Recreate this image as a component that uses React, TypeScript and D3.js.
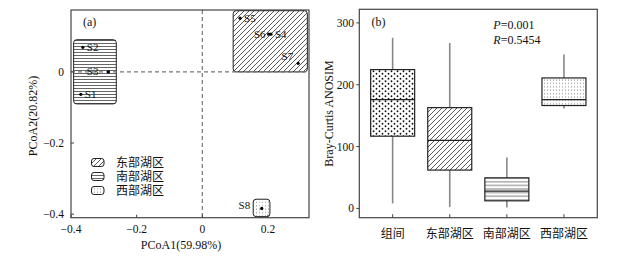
import React from 'react';
import * as d3 from 'd3';

// ---- Panel (a) data: PCoA sample coordinates ----
const samples = ['S1', 'S2', 'S3', 'S4', 'S5', 'S6', 'S7', 'S8'];
const pc1 = [-0.37, -0.364, -0.286, 0.209, 0.115, 0.202, 0.292, 0.181];
const pc2 = [-0.063, 0.069, 0.0, 0.106, 0.151, 0.106, 0.024, -0.384];
const labelSide = ['right', 'right', 'left', 'right', 'right', 'left', 'leftUp', 'leftFar'];

// region hulls (data units)
const regionNames = ['东部湖区', '南部湖区', '西部湖区'];
const regionPatterns = ['diag', 'hline', 'sdots'];
const regionX0 = [0.094, -0.392, 0.155];
const regionX1 = [0.32, -0.262, 0.206];
const regionY0 = [0.0, -0.09, -0.407];
const regionY1 = [0.172, 0.0905, -0.358];

const pcoaXTicks = [-0.4, -0.2, 0, 0.2];
const pcoaYTicks = [-0.4, -0.2, 0];

// ---- Panel (b) data: ANOSIM boxplots ----
const groups = ['组间', '东部湖区', '南部湖区', '西部湖区'];
const groupPatterns = ['bdots', 'diag', 'hline2', 'sdots'];
const whiskerLow = [8, 2, 1.6, 161.5];
const q1 = [116.8, 62, 12.3, 166.4];
const median = [176, 110, 28, 176];
const q3 = [224.5, 163, 49.5, 211];
const whiskerHigh = [276, 267.5, 82.4, 249];
const anosimYTicks = [0, 100, 200, 300];

const SERIF = "'Liberation Serif', 'Times New Roman', 'Noto Sans CJK SC', serif";
const AXIS = '#444';
const INK = '#111';

function Patterns() {
  return (
    <defs>
      <pattern id="diag" patternUnits="userSpaceOnUse" width="5" height="5">
        <path d="M0,5 L5,0 M-1,1 L1,-1 M4,6 L6,4" stroke="#222" strokeWidth="0.75" />
      </pattern>
      <pattern id="hline" patternUnits="userSpaceOnUse" width="6" height="3">
        <line x1="0" y1="1.5" x2="6" y2="1.5" stroke="#333" strokeWidth="0.75" />
      </pattern>
      <pattern id="hline2" patternUnits="userSpaceOnUse" width="6" height="3.6">
        <line x1="0" y1="1.8" x2="6" y2="1.8" stroke="#555" strokeWidth="0.8" />
      </pattern>
      <pattern id="sdots" patternUnits="userSpaceOnUse" width="3" height="3.4">
        <circle cx="1.5" cy="1.7" r="0.5" fill="#444" />
      </pattern>
      <pattern id="bdots" patternUnits="userSpaceOnUse" width="6" height="5">
        <circle cx="1.5" cy="1.25" r="0.9" fill="#111" />
        <circle cx="4.5" cy="3.75" r="0.9" fill="#111" />
      </pattern>
    </defs>
  );
}

function fmt(t: number) {
  return t === 0 ? '0' : d3.format('.1f')(t).replace('-', '−');
}

function PanelA() {
  const L = 71, R = 309, T = 10, B = 217.7;
  const x = d3.scaleLinear().domain([-0.4, 0.325]).range([L, R]);
  const y = d3.scaleLinear().domain([-0.41, 0.174]).range([B, T]);
  const legendRows = [162.5, 176.5, 190.5];
  return (
    <g fontFamily={SERIF}>
      {regionNames.map((n, i) => (
        <rect key={n}
          x={x(regionX0[i])} y={y(regionY1[i])}
          width={x(regionX1[i]) - x(regionX0[i])}
          height={y(regionY0[i]) - y(regionY1[i])}
          rx={3} fill={`url(#${regionPatterns[i]})`} stroke="#222" strokeWidth={1} />
      ))}
      <line x1={x(0)} x2={x(0)} y1={T} y2={B} stroke="#777" strokeWidth={1.2} strokeDasharray="4,3" />
      <line x1={L} x2={R} y1={y(0)} y2={y(0)} stroke="#777" strokeWidth={1.2} strokeDasharray="4,3" />
      <rect x={L} y={T} width={R - L} height={B - T} fill="none" stroke={AXIS} strokeWidth={1.2} />
      {pcoaXTicks.map(t => (
        <g key={'x' + t}>
          <line x1={x(t)} x2={x(t)} y1={B} y2={B - 3} stroke={AXIS} strokeWidth={1} />
          <text x={x(t)} y={233} fontSize={11.5} textAnchor="middle" fill={INK}>{fmt(t)}</text>
        </g>
      ))}
      {pcoaYTicks.map(t => (
        <g key={'y' + t}>
          <line x1={L} x2={L + 3} y1={y(t)} y2={y(t)} stroke={AXIS} strokeWidth={1} />
          <text x={64} y={y(t) + 4} fontSize={11.5} textAnchor="end" fill={INK}>{fmt(t)}</text>
        </g>
      ))}
      {samples.map((s, i) => {
        const px = x(pc1[i]), py = y(pc2[i]);
        const side = labelSide[i];
        let tx = px + 4, ty = py + 3.5, anchor = 'start';
        if (side === 'left') { tx = px - 3; anchor = 'end'; }
        if (side === 'leftUp') { tx = px - 5; ty = py - 3; anchor = 'end'; }
        if (side === 'leftFar') { tx = px - 11.5; ty = py + 1; anchor = 'end'; }
        if (s === 'S3') { tx = px - 10; }
        return (
          <g key={s}>
            <circle cx={px} cy={py} r={1.6} fill="#000" />
            <text x={tx} y={ty} fontSize={11} textAnchor={anchor} fill={INK}>{s}</text>
          </g>
        );
      })}
      <text x={83} y={26} fontSize={12} fill={INK}>(a)</text>
      {regionNames.map((n, i) => (
        <g key={'lg' + n}>
          <rect x={91.5} y={legendRows[i] - 4} width={12.5} height={8} rx={2.5}
            fill={`url(#${regionPatterns[i]})`} stroke="#222" strokeWidth={1} />
          <text x={116} y={legendRows[i] + 4.5} fontSize={12} fill={INK}>{n}</text>
        </g>
      ))}
      <text x={181} y={249} fontSize={12} textAnchor="middle" fill={INK}>PCoA1(59.98%)</text>
      <text transform={`translate(37,116) rotate(-90)`} fontSize={12} textAnchor="middle" fill={INK}>PCoA2(20.82%)</text>
    </g>
  );
}

function PanelB() {
  const L = 359.3, R = 597.3, T = 9.3, B = 217.7;
  const x = d3.scalePoint().domain(groups).range([L, R]).padding(0.584);
  const y = d3.scaleLinear().domain([-15, 322]).range([B, T]);
  const bw = 44;
  return (
    <g fontFamily={SERIF}>
      {groups.map((g, i) => {
        const cx = x(g)!;
        return (
          <g key={g}>
            <line x1={cx} x2={cx} y1={y(q3[i])} y2={y(whiskerHigh[i])} stroke="#888" strokeWidth={1.6} />
            <line x1={cx} x2={cx} y1={y(q1[i])} y2={y(whiskerLow[i])} stroke="#888" strokeWidth={1.6} />
            <rect x={cx - bw / 2} y={y(q3[i])} width={bw} height={y(q1[i]) - y(q3[i])}
              fill={`url(#${groupPatterns[i]})`} stroke="#222" strokeWidth={1.2} />
            <line x1={cx - bw / 2} x2={cx + bw / 2} y1={y(median[i])} y2={y(median[i])} stroke="#222" strokeWidth={1.4} />
          </g>
        );
      })}
      <rect x={L} y={T} width={R - L} height={B - T} fill="none" stroke={AXIS} strokeWidth={1.2} />
      {anosimYTicks.map(t => (
        <g key={t}>
          <line x1={L - 3} x2={L} y1={y(t)} y2={y(t)} stroke={AXIS} strokeWidth={1} />
          <text x={354} y={y(t) + 4} fontSize={11.5} textAnchor="end" fill={INK}>{t}</text>
        </g>
      ))}
      {groups.map(g => (
        <g key={'t' + g}>
          <line x1={x(g)!} x2={x(g)!} y1={B} y2={B - 3.5} stroke={AXIS} strokeWidth={1} />
          <text x={x(g)!} y={238} fontSize={12} textAnchor="middle" fill={INK}>{g}</text>
        </g>
      ))}
      <text x={371.5} y={26} fontSize={12} fill={INK}>(b)</text>
      <text x={493.3} y={28.5} fontSize={12} fill={INK}><tspan fontStyle="italic">P</tspan>=0.001</text>
      <text x={493.3} y={44} fontSize={12} fill={INK}><tspan fontStyle="italic">R</tspan>=0.5454</text>
      <text transform={`translate(333,113.5) rotate(-90)`} fontSize={12} textAnchor="middle" fill={INK}>Bray-Curtis ANOSIM</text>
    </g>
  );
}

export default function App() {
  return (
    <svg width={640} height={261} style={{ position: 'absolute', left: 0, top: 0, background: '#fff' }}>
      <Patterns />
      <rect width={640} height={261} fill="#fff" />
      <PanelA />
      <PanelB />
    </svg>
  );
}
